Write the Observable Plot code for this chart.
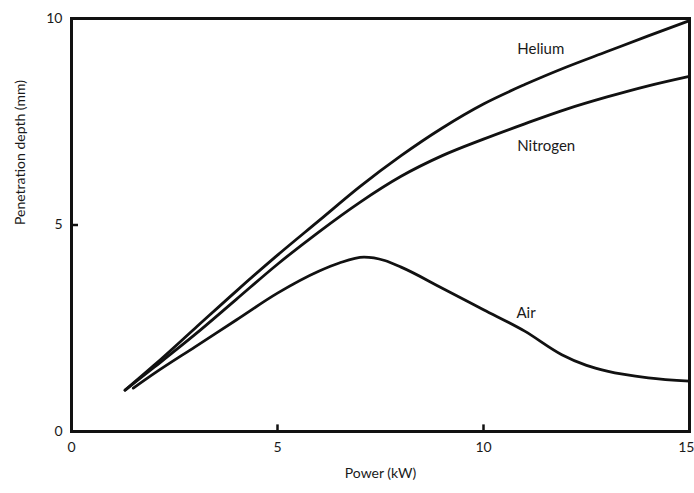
<!DOCTYPE html>
<html>
<head>
<meta charset="utf-8">
<script src="https://cdn.jsdelivr.net/npm/d3@7"></script>
<script src="https://cdn.jsdelivr.net/npm/@observablehq/plot@0.6"></script>
<style>
  html, body { margin: 0; padding: 0; background: #fff; }
  #chart svg { font-family: "Lato", "Roboto", sans-serif; }
</style>
</head>
<body>
<div id="chart"></div>
<script>
// Data
const heliumX = [1.3, 2, 3, 4, 5, 6, 7, 8, 9, 10, 11, 12, 13, 14, 15];
const heliumY = [1.0, 1.6, 2.5, 3.4, 4.27, 5.1, 5.93, 6.68, 7.35, 7.93, 8.4, 8.82, 9.2, 9.58, 9.95];

const nitrogenX = [1.3, 2, 3, 4, 5, 6, 7, 8, 9, 10, 11, 12, 13, 14, 15];
const nitrogenY = [1.0, 1.55, 2.35, 3.2, 4.05, 4.83, 5.55, 6.18, 6.68, 7.08, 7.45, 7.8, 8.1, 8.37, 8.6];

const airX = [1.5, 2, 3, 4, 5, 6, 6.5, 7.1, 7.6, 8, 9, 10, 11, 11.9, 12.5, 13, 14, 15];
const airY = [1.05, 1.4, 2.05, 2.7, 3.35, 3.88, 4.08, 4.22, 4.14, 3.98, 3.47, 2.95, 2.43, 1.86, 1.6, 1.46, 1.3, 1.22];

const seriesNames = ["Helium", "Nitrogen", "Air"];
const labelX = [10.82, 10.82, 10.8];
const labelY = [9.25, 6.92, 2.86];

const xTicks = [0, 5, 10];
const xLastTick = [15];
const yTicks = [0, 5, 10];
const innerXTicks = [5, 10];
const innerYTicks = [5];

const toRows = (xs, ys, name) => xs.map((x, i) => ({x, y: ys[i], name}));
const rows = [
  ...toRows(heliumX, heliumY, "Helium"),
  ...toRows(nitrogenX, nitrogenY, "Nitrogen"),
  ...toRows(airX, airY, "Air")
];
const labels = seriesNames.map((n, i) => ({name: n, x: labelX[i], y: labelY[i]}));

const chart = Plot.plot({
  width: 694,
  height: 493,
  marginLeft: 71,
  marginRight: 5,
  marginTop: 18,
  marginBottom: 62,
  x: {domain: [0, 15]},
  y: {domain: [0, 10]},
  style: {fontSize: "13px", color: "#1a1a1a", background: "#fff", overflow: "visible"},
  marks: [
    Plot.axisX({ticks: xTicks, tickSize: 0, tickPadding: 11, label: null, fontSize: 14}),
    Plot.axisX({ticks: xLastTick, tickSize: 0, tickPadding: 11, label: null, fontSize: 14, textAnchor: "end", dx: 5}),
    Plot.axisY({ticks: yTicks, tickSize: 0, tickPadding: 9, label: null, fontSize: 14}),
    Plot.text(["Power (kW)"], {frameAnchor: "bottom", dy: 46, fontSize: 14, fill: "#1a1a1a"}),
    Plot.text(["Penetration depth (mm)"], {frameAnchor: "left", dx: -51, rotate: -90, fontSize: 14, fill: "#1a1a1a"}),
    Plot.ruleX(innerXTicks, {y1: 0, y2: 0.16, stroke: "#111", strokeWidth: 2.5}),
    Plot.ruleY(innerYTicks, {x1: 0, x2: 0.17, stroke: "#111", strokeWidth: 2.5}),
    Plot.line(rows, {x: "x", y: "y", z: "name", curve: "monotone-x", stroke: "#111", strokeWidth: 2.8}),
    Plot.text(labels, {x: "x", y: "y", text: "name", textAnchor: "start", fontSize: 15, fill: "#1a1a1a"}),
    Plot.frame({stroke: "#111", strokeWidth: 3})
  ]
});
document.getElementById("chart").appendChild(chart);
</script>
</body>
</html>
